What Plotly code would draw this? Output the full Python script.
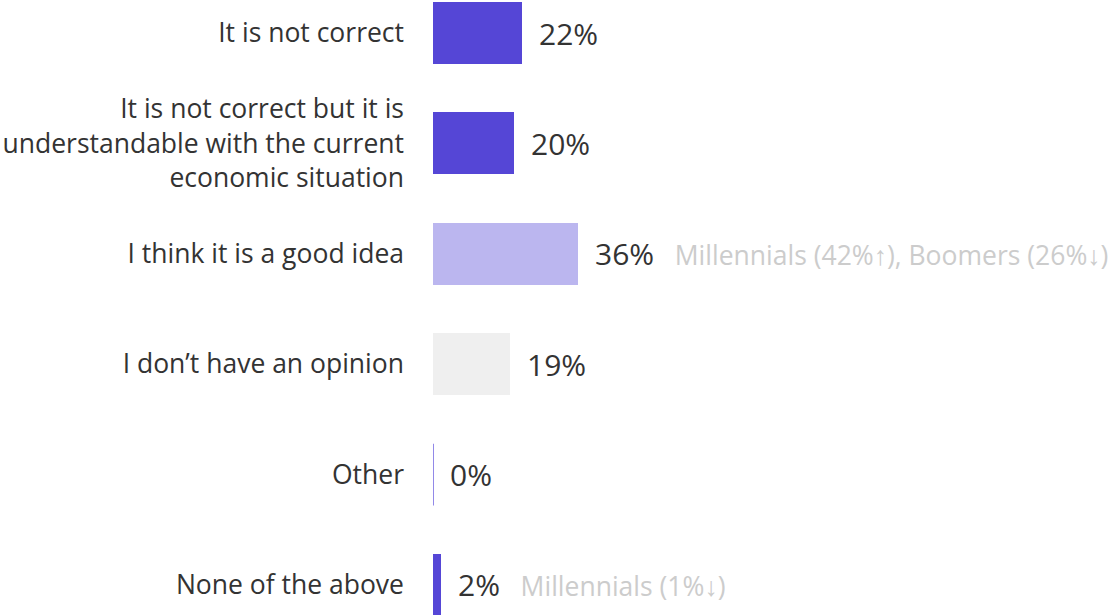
import plotly.graph_objects as go

categories = [
    "It is not correct",
    "It is not correct but it is<br>understandable with the current<br>economic situation",
    "I think it is a good idea",
    "I don\u2019t have an opinion",
    "Other",
    "None of the above",
]
values = [22, 20, 36, 19, 0, 2]
colors = ["#5546d6", "#5546d6", "#bbb6ef", "#efefef", "#5546d6", "#5546d6"]
notes = ["", "", "Millennials (42%\u2191), Boomers (26%\u2193)", "", "", "Millennials (1%\u2193)"]

positions = list(range(len(categories)))
BAR_W = 0.56
FONT = "Open Sans"

fig = go.Figure()
fig.add_trace(go.Bar(
    x=values, y=positions, orientation="h", width=BAR_W,
    marker=dict(color=colors, line=dict(width=0)),
    hoverinfo="skip",
))

# zero-valued bars still show a hairline at the baseline
for p, v, c in zip(positions, values, colors):
    if v == 0:
        fig.add_shape(type="line", x0=v, x1=v, y0=p - BAR_W / 2, y1=p + BAR_W / 2,
                      xref="x", yref="y", line=dict(color="#6e62e0", width=1.5))

for p, v, n in zip(positions, values, notes):
    txt = f"<span style='font-size:30px;color:#333333'>{v}%</span>"
    if n:
        txt += f"<span style='font-size:26.5px;color:#cccccc'>   {n}</span>"
    fig.add_annotation(x=v, y=p, xref="x", yref="y", text=txt, showarrow=False,
                       xanchor="left", yanchor="middle", xshift=15,
                       font=dict(family=FONT, size=30, color="#333333"))

fig.update_layout(
    width=1115, height=615,
    margin=dict(l=433, r=0, t=0, b=0),
    plot_bgcolor="white", paper_bgcolor="white",
    showlegend=False, bargap=0,
    font=dict(family=FONT, color="#333333"),
)
fig.update_xaxes(range=[0, 169.2], visible=False, fixedrange=True)
fig.update_yaxes(
    range=[5.272, -0.299], tickmode="array", tickvals=positions, ticktext=categories,
    showgrid=False, zeroline=False, showline=False, ticks="", ticklabelstandoff=28,
    tickfont=dict(family=FONT, size=26.5, color="#333333"),
)

fig.write_html("out.html")
